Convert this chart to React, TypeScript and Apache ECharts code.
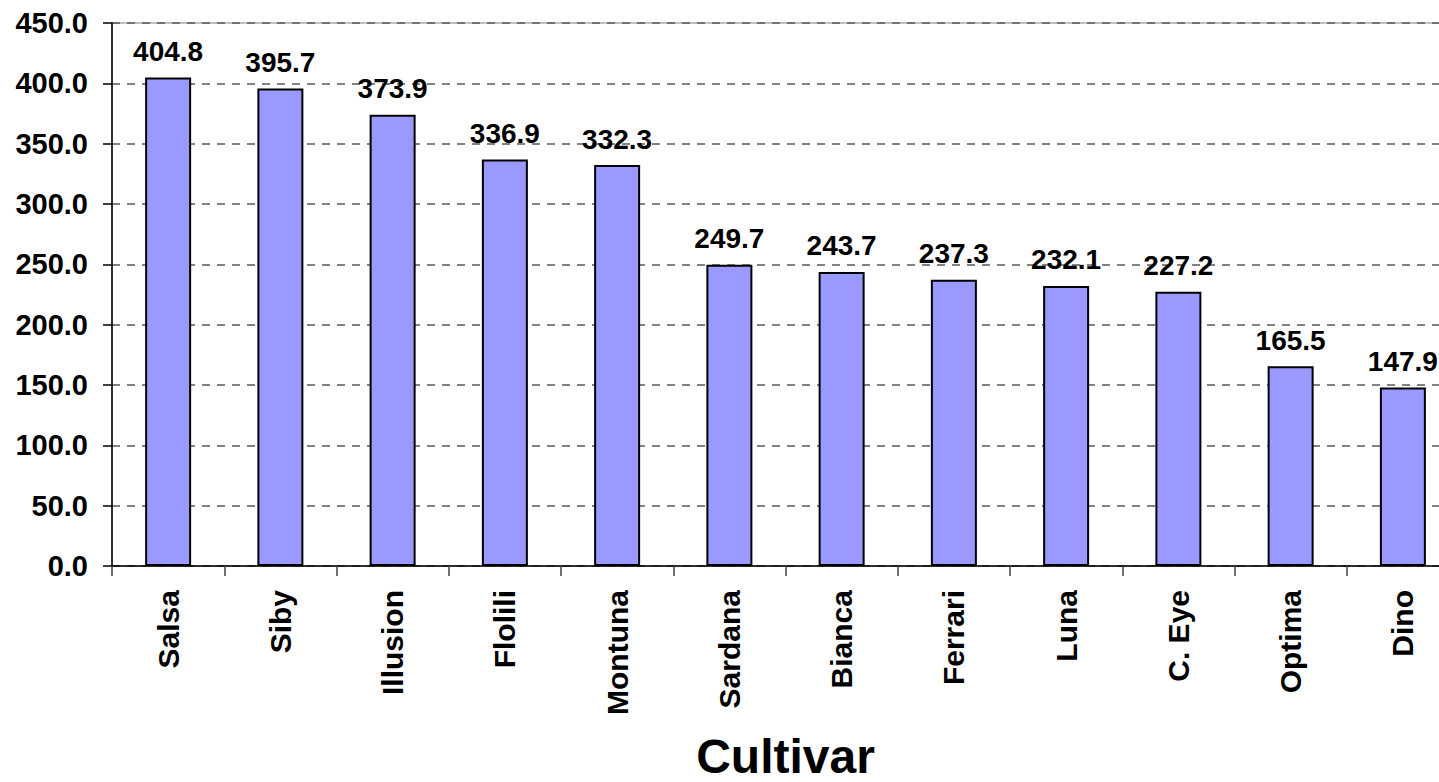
import React, { useEffect, useRef } from "react";
import * as echarts from "echarts";

const categories = ["Salsa", "Siby", "Illusion", "Flolili", "Montuna", "Sardana", "Bianca", "Ferrari", "Luna", "C. Eye", "Optima", "Dino"];
const values = [404.8, 395.7, 373.9, 336.9, 332.3, 249.7, 243.7, 237.3, 232.1, 227.2, 165.5, 147.9];
const axisTitle = "Cultivar";
const yMin = 0;
const yMax = 450;
const yStep = 50;

const FONT = "'Liberation Sans', Arial, sans-serif";

export default function App() {
  const ref = useRef<HTMLDivElement>(null);
  useEffect(() => {
    document.body.style.margin = "0";
    const chart = echarts.init(ref.current!, undefined, { renderer: "svg" });
    chart.setOption({
      animation: false,
      backgroundColor: "#ffffff",
      grid: {
        left: 112,
        top: 23,
        right: -20,
        bottom: 216,
        outerBoundsMode: "none",
        containLabel: false,
        show: true,
        borderColor: "#808080",
        borderWidth: 1,
        backgroundColor: "transparent",
      },
      xAxis: {
        type: "category",
        data: categories,
        name: axisTitle,
        nameLocation: "middle",
        nameGap: 166,
        nameTextStyle: { fontFamily: FONT, fontWeight: "bold", fontSize: 48, color: "#000" },
        axisLine: { show: true, lineStyle: { color: "#000", width: 1.5 } },
        axisTick: { show: true, length: 10, alignWithLabel: false, lineStyle: { color: "#404040", width: 1.5 } },
        axisLabel: {
          rotate: 90,
          margin: 24,
          fontFamily: FONT,
          fontWeight: "bold",
          fontSize: 30,
          color: "#000",
          interval: 0,
        },
        splitLine: { show: false },
      },
      yAxis: {
        type: "value",
        min: yMin,
        max: yMax,
        interval: yStep,
        axisLine: { show: true, lineStyle: { color: "#000", width: 1.5 } },
        axisTick: { show: true, inside: false, length: 9, lineStyle: { color: "#000", width: 1.5 } },
        axisLabel: {
          margin: 24,
          fontFamily: FONT,
          fontWeight: "bold",
          fontSize: 29,
          color: "#000",
          formatter: (v: number) => v.toFixed(1),
        },
        splitLine: { show: true, lineStyle: { color: "#5a5a5a", type: [8, 7], width: 1.5 } },
      },
      series: [
        {
          type: "bar",
          data: values,
          barWidth: 46,
          itemStyle: { color: "#9999FF", borderColor: "#000", borderWidth: 2 },
          label: {
            show: true,
            position: "top",
            distance: 12,
            fontFamily: FONT,
            fontWeight: "bold",
            fontSize: 28,
            color: "#000",
            formatter: (p: any) => Number(p.value).toFixed(1),
          },
        },
      ],
    });
    return () => chart.dispose();
  }, []);
  return <div ref={ref} style={{ position: "fixed", left: 0, top: 0, width: 1439, height: 782 }} />;
}
